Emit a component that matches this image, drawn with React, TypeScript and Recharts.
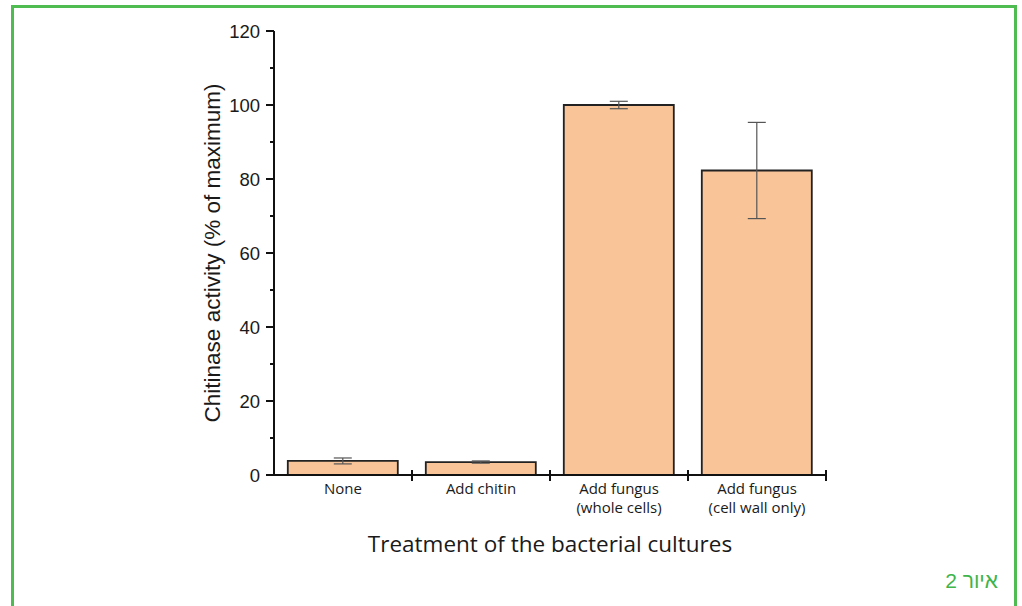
import React from "react";
import { BarChart, Bar, XAxis, YAxis, ErrorBar } from "recharts";

const treatments = ["None", "Add chitin", "Add fungus|(whole cells)", "Add fungus|(cell wall only)"];
const activity = [3.8, 3.5, 100, 82.3];
const errors = [0.8, 0.3, 1, 13];
const yTicks = [0, 10, 20, 30, 40, 50, 60, 70, 80, 90, 100, 110, 120];

const data = treatments.map((t, i) => ({ name: t, value: activity[i], err: errors[i] }));

const GREEN = "#4fbc52";

function XTick(props: any) {
  const { x, y, payload } = props;
  const lines = String(payload.value).split("|");
  const half = payload.offset ?? 69;
  return (
    <g>
      <line x1={x + half} x2={x + half} y1={y - 5} y2={y + 6} stroke="#111" strokeWidth={2} />
      <text textAnchor="middle" fontSize={15} fontFamily="'Open Sans', sans-serif" fill="#1a1a1a">
        {lines.map((l, i) => (
          <tspan key={i} x={x} y={y + 19 + i * 19}>{l}</tspan>
        ))}
      </text>
    </g>
  );
}

function YTick(props: any) {
  const { x, y, payload } = props;
  const major = payload.value % 20 === 0;
  return (
    <g>
      <line x1={x - (major ? 8 : 4)} x2={x} y1={y} y2={y} stroke="#111" strokeWidth={2} />
      {major && (
        <text x={x - 14} y={y + 6.5} textAnchor="end" fontSize={18.5} fontFamily="'Liberation Sans', Arial, sans-serif" fill="#1a1a1a">
          {payload.value}
        </text>
      )}
    </g>
  );
}

export default function App() {
  return (
    <div style={{ position: "fixed", left: 0, top: 0, width: 1022, height: 606, background: "#fff", overflow: "hidden" }}>
      <div style={{ position: "absolute", left: 11, top: 5, width: 1000, height: 700, border: `3px solid ${GREEN}` }} />
      <BarChart width={1022} height={606} data={data} barCategoryGap="10%"
        margin={{ top: 31, right: 196, bottom: 51, left: 214 }}>
        <XAxis dataKey="name" height={80} tick={<XTick />} tickLine={false} tickSize={0} tickMargin={0}
          interval={0} axisLine={{ stroke: "#111", strokeWidth: 2 }}
          label={{ value: "Treatment of the bacterial cultures", position: "insideBottom", offset: 3,
            fontSize: 22.5, fill: "#1a1a1a", fontFamily: "'Open Sans', sans-serif" }} />
        <YAxis width={60} domain={[0, 120]} ticks={yTicks} interval={0} tick={<YTick />} tickLine={false}
          tickSize={0} tickMargin={0} axisLine={{ stroke: "#111", strokeWidth: 2 }}
          label={{ value: "Chitinase activity (% of maximum)", angle: -90, position: "center", dx: -32,
            fontSize: 22.5, fill: "#1a1a1a", fontFamily: "'Liberation Sans', Arial, sans-serif" }} />
        <Bar dataKey="value" fill="#f8c498" stroke="#222" strokeWidth={1.8} isAnimationActive={false}>
          <ErrorBar dataKey="err" width={9} stroke="#555" strokeWidth={1.2} isAnimationActive={false} />
        </Bar>
      </BarChart>
      <div style={{ position: "absolute", right: 24, top: 569, direction: "rtl", color: "#3fb44a",
        fontSize: 21, fontFamily: "'Liberation Sans', Arial, sans-serif" }}>
        איור 2
      </div>
    </div>
  );
}
